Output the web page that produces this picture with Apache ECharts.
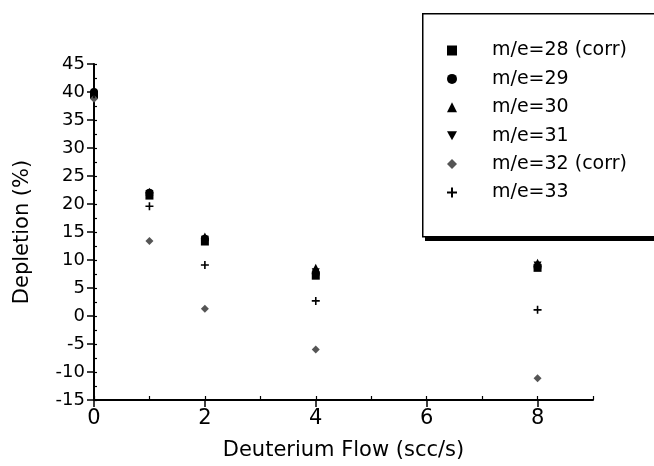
<!DOCTYPE html>
<html>
<head>
<meta charset="utf-8">
<script src="https://cdn.jsdelivr.net/npm/echarts@6/dist/echarts.min.js"></script>
<style>html,body{margin:0;padding:0;background:#fff}#c{width:654px;height:466px}</style>
</head>
<body>
<div id="c"></div>
<script>
var flows = [0, 1, 2, 4, 8];
var me28 = [39.5, 21.5, 13.3, 7.2, 8.6];
var me29 = [40.0, 22.0, 13.8, 7.6, 8.8];
var me30 = [40.3, 22.2, 14.2, 8.6, 9.5];
var me31 = [39.2, 21.8, 13.6, 7.8, 9.0];
var me32 = [38.8, 13.4, 1.3, -6.0, -11.1];
var me33 = [39.6, 19.6, 9.1, 2.7, 1.1];
var seriesNames = ['m/e=28 (corr)', 'm/e=29', 'm/e=30', 'm/e=31', 'm/e=32 (corr)', 'm/e=33'];
var xTicks = [0, 2, 4, 6, 8];
var yTicks = [-15, -10, -5, 0, 5, 10, 15, 20, 25, 30, 35, 40, 45];

var FONT = 'DejaVu Sans, sans-serif';
var plusPath = 'path://M4,0 L6,0 L6,4 L10,4 L10,6 L6,6 L6,10 L4,10 L4,6 L0,6 L0,4 L4,4 Z';
var downTri = 'path://M0,0 L10,0 L5,9 Z';
function pts(vals){ return flows.map(function(x,i){ return [x, vals[i]]; }); }
var defs = [
  {name: seriesNames[0], data: me28, symbol: 'rect', size: 8, color: '#000'},
  {name: seriesNames[1], data: me29, symbol: 'circle', size: 8, color: '#000'},
  {name: seriesNames[2], data: me30, symbol: 'triangle', size: 8, color: '#000'},
  {name: seriesNames[3], data: me31, symbol: downTri, size: 8, color: '#000'},
  {name: seriesNames[4], data: me32, symbol: 'diamond', size: 8, color: '#555'},
  {name: seriesNames[5], data: me33, symbol: plusPath, size: 8, color: '#000'}
];
var chart = echarts.init(document.getElementById('c'), null, {renderer: 'canvas'});
chart.setOption({
  animation: false,
  backgroundColor: '#fff',
  grid: {left: 94, right: 61, top: 64, bottom: 63.5, containLabel: false},
  xAxis: [{
    type: 'value', min: 0, max: 9, interval: 2,
    name: 'Deuterium Flow (scc/s)', nameLocation: 'middle', nameGap: 40,
    nameTextStyle: {fontFamily: FONT, fontSize: 21, color: '#000'},
    axisLine: {onZero: false, lineStyle: {color: '#000', width: 2}},
    axisTick: {show: true, inside: false, length: 7, customValues: xTicks, lineStyle: {color: '#000', width: 1.5}},
    axisLabel: {fontFamily: FONT, fontSize: 21, color: '#000', margin: 8, customValues: xTicks,
      formatter: function(v){ return xTicks.indexOf(v) >= 0 ? String(v) : ''; }},
    splitLine: {show: false}
  }, {
    type: 'value', min: 0, max: 9, interval: 1, position: 'bottom',
    axisLine: {show: false, onZero: false},
    axisTick: {show: true, inside: true, length: 4, lineStyle: {color: '#000', width: 1.2}},
    axisLabel: {show: false}, splitLine: {show: false}
  }],
  yAxis: [{
    type: 'value', min: -15, max: 45, interval: 5,
    name: 'Depletion (%)', nameLocation: 'middle', nameGap: 61, nameRotate: 90,
    nameTextStyle: {fontFamily: FONT, fontSize: 21, color: '#000'},
    axisLine: {onZero: false, lineStyle: {color: '#000', width: 2}},
    axisTick: {show: true, inside: false, length: 7, lineStyle: {color: '#000', width: 1.5}},
    axisLabel: {fontFamily: FONT, fontSize: 18, color: '#000', margin: 9,
      formatter: function(v){ return yTicks.indexOf(v) >= 0 ? String(v) : ''; }},
    splitLine: {show: false}
  }, {
    type: 'value', min: -15, max: 45, interval: 2.5, position: 'left',
    axisLine: {show: false, onZero: false},
    axisTick: {show: true, inside: true, length: 3, lineStyle: {color: '#000', width: 1.2}},
    axisLabel: {show: false}, splitLine: {show: false}
  }],
  legend: {
    orient: 'vertical', left: 442, top: 35.5,
    itemWidth: 10, itemHeight: 10, itemGap: 8.4,
    textStyle: {fontFamily: FONT, fontSize: 19, color: '#000', lineHeight: 20, padding: [0, 0, 0, 30]},
    data: seriesNames,
    selectedMode: false
  },
  graphic: [{
    type: 'rect', z: -2, left: 425, top: 234, silent: true,
    shape: {width: 240, height: 7},
    style: {fill: '#000'}
  }, {
    type: 'rect', z: -1, left: 422, top: 13, silent: true,
    shape: {width: 250, height: 223},
    style: {fill: '#fff', stroke: '#000', lineWidth: 1.5}
  }],
  series: defs.map(function(d){
    return {
      type: 'scatter', name: d.name, data: pts(d.data),
      xAxisIndex: 0, yAxisIndex: 0,
      symbol: d.symbol, symbolSize: d.size,
      itemStyle: {color: d.color, opacity: 1}
    };
  })
});
</script>
</body>
</html>
